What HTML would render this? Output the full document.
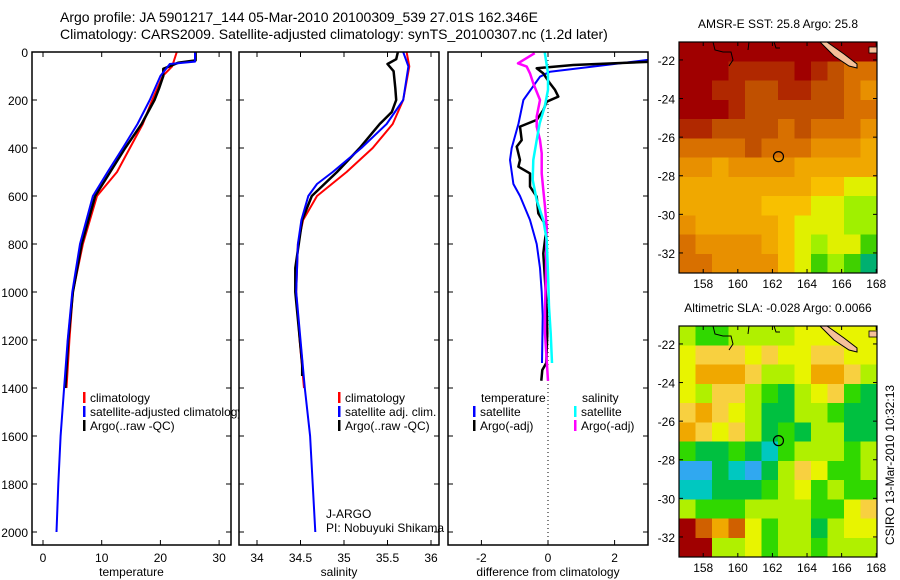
<!DOCTYPE html>
<html><head><meta charset="utf-8"><style>
html,body{margin:0;padding:0;background:#fff;}
svg{display:block;font-family:"Liberation Sans",sans-serif;}
</style></head><body>
<svg id="fig" width="900" height="580" xmlns="http://www.w3.org/2000/svg">
<text x="60" y="22" font-size="14">Argo profile: JA 5901217_144 05-Mar-2010 20100309_539 27.01S 162.346E</text>
<text x="60" y="39" font-size="14">Climatology: CARS2009. Satellite-adjusted climatology: synTS_20100307.nc (1.2d later)</text>
<g id="layer"></g>
</svg>
<script>
// ---- data ----
const depthTicks=[0,200,400,600,800,1000,1200,1400,1600,1800,2000];
const tempTicks=[0,10,20,30];
const salTicks=[34,34.5,35,35.5,36];
const diffTicks=[-2,0,2];
const latTicks=[-22,-24,-26,-28,-30,-32];
const lonTicks=[158,160,162,164,166,168];

const tClimDepth=[0,60,100,200,300,400,500,600,800,1000,1200,1400];
const tClimVal=[22.8,22,20.4,18.6,17,14.8,12.6,9.2,6.8,5.1,4.5,4.0];
const tSatDepth=[0,40,50,100,200,300,400,500,600,800,1000,1200,1400,1600,1800,2000];
const tSatVal=[25.9,25.9,21.6,20,18.2,16.1,13.6,11,8.5,6.3,5,4.2,3.6,3,2.6,2.3];
const tArgoDepth=[0,35,45,70,100,150,200,300,400,600,800,1000,1200,1400];
const tArgoVal=[26,26,23,20.5,20.5,19.8,19,16.8,14,8.9,6.6,5.1,4.3,3.8];

const sClimDepth=[0,60,200,300,400,500,600,700,800,1000,1200,1400];
const sClimVal=[35.72,35.75,35.68,35.56,35.33,35.03,34.69,34.53,34.47,34.45,34.49,34.54];
const sSatDepth=[0,60,200,300,400,500,550,600,700,800,1000,1200,1400,1600,1800,2000];
const sSatVal=[35.68,35.74,35.68,35.49,35.2,34.87,34.69,34.59,34.51,34.47,34.45,34.5,34.55,34.61,34.64,34.67];
const sArgoDepth=[0,30,50,80,150,200,250,300,400,500,600,700,900,1000,1300,1350];
const sArgoVal=[35.62,35.6,35.5,35.57,35.59,35.6,35.55,35.41,35.18,34.92,34.63,34.52,34.44,34.44,34.52,34.52];

const dTSatDepth=[0,33,82,103,200,300,400,450,500,550,600,700,800,900,1000,1100,1296];
const dTSatVal=[3.3,3.0,0.06,-0.24,-0.74,-0.89,-1.09,-1.14,-1.09,-1.04,-0.84,-0.54,-0.34,-0.24,-0.19,-0.16,-0.18];
const dTArgoDepth=[15,40,54,68,89,131,158,186,207,242,283,311,367,394,450,478,506,561,603,672,728,839,950,1061,1172,1296,1325,1370];
const dTArgoVal=[4,3.2,0.76,-0.34,-0.14,0.06,0.21,0.31,-0.04,-0.14,-0.34,-0.84,-0.79,-0.94,-0.84,-0.89,-0.54,-0.54,-0.34,-0.29,-0.04,-0.14,-0.09,-0.04,-0.02,-0.05,-0.17,-0.2];
const dSSatDepth=[0,89,158,228,297,367,450,533,617,700,783,922,1061,1172,1296];
const dSSatVal=[-0.1,0,0,-0.1,-0.25,-0.34,-0.44,-0.46,-0.34,-0.14,-0.04,0,0.03,0.08,0.12];
const dSArgoDepth=[5,47,61,89,131,200,269,311,367,422,506,575,644,728,783,922,1061,1172,1370];
const dSArgoVal=[-0.4,-0.9,-0.64,-0.54,-0.44,-0.24,-0.34,-0.34,-0.24,-0.19,-0.19,-0.14,-0.09,-0.04,-0.05,-0.06,-0.09,-0.09,0];

const sstGrid=[
[10,10,10,10,10,10,10,10,10,10,10,10],
[10,10,10,9,9,9,9,10,9,8,7,7],
[10,10,9,9,8,8,9,9,8,8,7,6],
[10,10,10,9,8,8,8,8,8,8,7,7],
[9,9,8,8,8,8,7,8,7,7,7,6],
[7,7,7,7,8,7,7,7,6,6,6,5],
[6,6,5,6,6,6,6,5,5,5,5,5],
[5,5,5,5,5,5,5,5,4,4,3,3],
[5,5,5,5,5,4,4,4,3,3,2,2],
[6,5,5,5,5,5,4,3,3,3,2,2],
[7,6,6,6,6,5,4,3,2,3,3,1],
[7,7,6,6,6,6,4,3,1,2,1,0]];
const slaGrid=[
[4,3,3,4,4,4,4,5,5,5,5,5],
[5,6,6,6,5,6,5,5,6,6,5,5],
[5,7,7,7,6,4,4,5,7,7,6,4],
[5,4,6,6,4,3,2,4,5,6,3,2],
[6,7,6,5,4,2,2,4,4,3,2,2],
[7,6,5,6,4,2,3,2,4,4,2,2],
[3,2,2,3,2,1,3,4,4,4,3,4],
[0,0,2,1,0,2,4,6,5,3,3,4],
[1,1,2,2,2,3,4,5,3,4,3,3],
[4,3,3,3,4,4,4,4,3,3,5,6],
[9,8,7,8,5,3,4,4,2,4,5,5],
[9,9,4,4,5,3,4,4,3,4,4,4]];
const profileLon=[162.35];
const profileLat=[-27.01];

// ---- drawing ----
const NS='http://www.w3.org/2000/svg';
const layer=document.getElementById('layer');
function mk(tag,attrs,parent){const e=document.createElementNS(NS,tag);for(const k in attrs)e.setAttribute(k,attrs[k]);(parent||layer).appendChild(e);return e;}
const TOP=52,DPX=0.24,BOT=545,FT=52;
const yD=d=>TOP+d*DPX;

function panel(name,x0,x1,xs,xticks,xlabel,fmt,leftLabels){
  const g=mk('g',{});
  
  
  const bg=mk('rect',{x:x0,y:FT,width:x1-x0,height:BOT-FT,fill:'#fff',stroke:'none'},g);
  
  
  const cp=mk('clipPath',{id:'cp-'+name},g);
  mk('rect',{x:x0,y:FT,width:x1-x0,height:BOT-FT},cp);
  const plot=mk('g',{'clip-path':'url(#cp-'+name+')'},g);
  depthTicks.forEach(d=>{
    const y=yD(d);
    const t1=mk('line',{x1:x0,x2:x0+5,y1:y,y2:y,stroke:'#000'},g);
    
    
    mk('line',{x1:x1-5,x2:x1,y1:y,y2:y,stroke:'#000'},g);
    if(leftLabels){
      const t=mk('text',{x:x0-4,y:y+5,'font-size':12,'text-anchor':'end'},g);
      t.textContent=d;
      
      
    }
  });
  xticks.forEach(v=>{
    const x=xs(v);
    mk('line',{x1:x,x2:x,y1:BOT,y2:BOT-5,stroke:'#000'},g);
    mk('line',{x1:x,x2:x,y1:FT,y2:FT+5,stroke:'#000'},g);
    const t=mk('text',{x:x,y:562,'font-size':12,'text-anchor':'middle'},g);
    t.textContent=fmt(v);
    
    
  });
  const xl=mk('text',{x:(x0+x1)/2,y:576,'font-size':12,'text-anchor':'middle'},g);
  xl.textContent=xlabel;
  
  
  return {g,plot,box:()=>{const b=mk('rect',{x:x0,y:FT,width:x1-x0,height:BOT-FT,fill:'none',stroke:'#000','stroke-width':1.5},g);}};
}
function line(plot,xs,depths,vals,color,w,name){
  const pts=depths.map((d,i)=>xs(vals[i]).toFixed(1)+','+yD(d).toFixed(1)).join(' ');
  const p=mk('polyline',{points:pts,fill:'none',stroke:color,'stroke-width':w,'stroke-linejoin':'round'},plot);
  
  
}
function legend(g,x,y,color,label,name){
  mk('rect',{x:x,y:y-10,width:2.5,height:11,fill:color},g);
  const t=mk('text',{x:x+7,y:y,'font-size':12},g);
  t.textContent=label;
  
  
}

// temperature
const xT=v=>43+v*5.87;
const P1=panel('temperature-panel',32,231,xT,tempTicks,'temperature',v=>v,true);
line(P1.plot,xT,tClimDepth,tClimVal,'#f00',2,'temp-climatology-line');
line(P1.plot,xT,tArgoDepth,tArgoVal,'#000',2.5,'temp-argo-line');
line(P1.plot,xT,tSatDepth,tSatVal,'#00f',2,'temp-satellite-line');
legend(P1.g,83,402,'#f00','climatology','legend-climatology');
legend(P1.g,83,416,'#00f','satellite-adjusted climatology','legend-satellite-adjusted');
legend(P1.g,83,430,'#000','Argo(..raw -QC)','legend-argo');
P1.box();

// salinity
const xS=v=>257+(v-34)*87;
const P2=panel('salinity-panel',239,439,xS,salTicks,'salinity',v=>v,false);
line(P2.plot,xS,sClimDepth,sClimVal,'#f00',2,'sal-climatology-line');
line(P2.plot,xS,sArgoDepth,sArgoVal,'#000',2.5,'sal-argo-line');
line(P2.plot,xS,sSatDepth,sSatVal,'#00f',2,'sal-satellite-line');
legend(P2.g,338,402,'#f00','climatology','legend-sal-climatology');
legend(P2.g,338,416,'#00f','satellite adj. clim.','legend-sal-satellite');
legend(P2.g,338,430,'#000','Argo(..raw -QC)','legend-sal-argo');
const j1=mk('text',{x:326,y:518,'font-size':12},P2.g);j1.textContent='J-ARGO';


const j2=mk('text',{x:326,y:532,'font-size':12},P2.g);j2.textContent='PI: Nobuyuki Shikama';


P2.box();

// difference
const xDf=v=>548+v*33.3;
const P3=panel('difference-panel',448,648,xDf,diffTicks,'difference from climatology',v=>v,false);
mk('line',{x1:xDf(0),x2:xDf(0),y1:FT,y2:BOT,stroke:'#000','stroke-dasharray':'1,3'},P3.plot);
line(P3.plot,xDf,dTSatDepth,dTSatVal,'#00f',2,'diff-temp-satellite-line');
line(P3.plot,xDf,dTArgoDepth,dTArgoVal,'#000',2.5,'diff-temp-argo-line');
line(P3.plot,xDf,dSArgoDepth,dSArgoVal,'#f0f',2.5,'diff-sal-argo-line');
line(P3.plot,xDf,dSSatDepth,dSSatVal,'#0ff',2.5,'diff-sal-satellite-line');
const lt=mk('text',{x:481,y:402,'font-size':12},P3.g);lt.textContent='temperature';
const ls=mk('text',{x:582,y:402,'font-size':12},P3.g);ls.textContent='salinity';
legend(P3.g,473,416,'#00f','satellite','legend-diff-temp-satellite');
legend(P3.g,473,430,'#000','Argo(-adj)','legend-diff-temp-argo');
legend(P3.g,574,416,'#0ff','satellite','legend-diff-sal-satellite');
legend(P3.g,574,430,'#f0f','Argo(-adj)','legend-diff-sal-argo');
P3.box();

// maps
const sstColors=['#00b070','#40d000','#a0f000','#e0f000','#f8c000','#f0a800','#e89000','#d87000','#c05000','#b02800','#a00000'];
const slaColors=['#30a8f0','#00c8c0','#00c040','#30d800','#b0f000','#e8f400','#f8d040','#f0a800','#d06000','#a00000'];
function map(name,y0,grid,colors,title){
  const x0=679,x1=877,y1=y0+231;
  const g=mk('g',{});
  
  
  const lonX=lon=>x0+(lon-156.6)*17.3;
  const latY=lat=>y0+(-21.07-lat)*19.3;
  const rows=grid.length,cols=grid[0].length,cw=(x1-x0)/cols,ch=(y1-y0)/rows;
  grid.forEach((row,r)=>row.forEach((v,c)=>{
    const cell=mk('rect',{x:x0+c*cw,y:y0+r*ch,width:cw+0.5,height:ch+0.5,fill:colors[v],'shape-rendering':'crispEdges'},g);
    
    
  }));
  const land=mk('polygon',{points:`${x0+141},${y0} ${x0+148},${y0} ${x0+165},${y0+12} ${x0+178},${y0+22} ${x0+178},${y0+26} ${x0+170},${y0+24} ${x0+155},${y0+14}`,fill:'#f5c09a',stroke:'#000','stroke-width':1},g);
  
  
  mk('path',{d:`M${x0+34},${y0} l2,8 l8,2 l8,0 l2,8 l-4,6 M${x0+70},${y0} l-1,8 M${x0+95},${y0} l2,6 l4,0`,fill:'none',stroke:'#000','stroke-width':1},g);
  mk('rect',{x:x0+190,y:y0+5,width:8,height:6,fill:'#f5c09a',stroke:'#000','stroke-width':0.8},g);
  const pc=mk('circle',{cx:lonX(profileLon[0]),cy:latY(profileLat[0]),r:5,fill:'none',stroke:'#000','stroke-width':1.2},g);
  
  
  mk('rect',{x:x0,y:y0,width:x1-x0,height:y1-y0,fill:'none',stroke:'#000','stroke-width':1.2},g);
  latTicks.forEach(lat=>{
    const y=latY(lat);
    mk('line',{x1:x0,x2:x0+4,y1:y,y2:y,stroke:'#000'},g);
    mk('line',{x1:x1-4,x2:x1,y1:y,y2:y,stroke:'#000'},g);
    const t=mk('text',{x:x0-4,y:y+5,'font-size':12,'text-anchor':'end'},g);t.textContent=lat;
    
    
  });
  lonTicks.forEach(lon=>{
    const x=lonX(lon);
    mk('line',{x1:x,x2:x,y1:y1,y2:y1-4,stroke:'#000'},g);
    mk('line',{x1:x,x2:x,y1:y0,y2:y0+4,stroke:'#000'},g);
    const t=mk('text',{x:x,y:y1+15,'font-size':12,'text-anchor':'middle'},g);t.textContent=lon;
    
    
  });
  const tt=mk('text',{x:(x0+x1)/2,y:y0-14,'font-size':12,'text-anchor':'middle'},g);tt.textContent=title;
  
  
}
map('sst-map',42,sstGrid,sstColors,'AMSR-E SST: 25.8 Argo: 25.8');
map('sla-map',326,slaGrid,slaColors,'Altimetric SLA: -0.028 Argo: 0.0066');
const cs=mk('text',{x:0,y:0,'font-size':12,'text-anchor':'middle',transform:'translate(894,465) rotate(-90)'});
cs.textContent='CSIRO 13-Mar-2010 10:32:13';


</script>
</body></html>
